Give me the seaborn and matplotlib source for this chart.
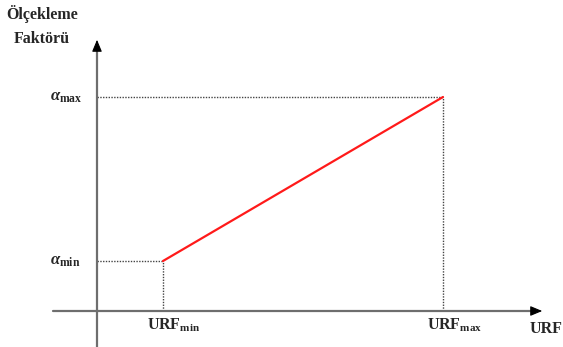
import matplotlib
matplotlib.use("Agg")
import matplotlib.pyplot as plt
import seaborn as sns
import pandas as pd

# ---- data ----
urf_vals = [1.0, 5.0]          # URF_min, URF_max
alpha_vals = [1.0, 3.0]        # alpha_min, alpha_max
x_tick_labels = [r"$\mathbf{URF}_{\mathbf{min}}$", r"$\mathbf{URF}_{\mathbf{max}}$"]
y_tick_labels = [r"$\alpha_{\mathbf{min}}$", r"$\alpha_{\mathbf{max}}$"]
x_axis_label = "URF"
y_axis_label = "Ölçekleme\nFaktörü"

sns.set_theme(style="white")
plt.rcParams["font.family"] = ["Liberation Serif", "DejaVu Serif"]
plt.rcParams["mathtext.fontset"] = "custom"
plt.rcParams["mathtext.rm"] = "Liberation Serif"
plt.rcParams["mathtext.bf"] = "Liberation Serif:bold"
plt.rcParams["mathtext.it"] = "Liberation Serif:italic:bold"

W, H = 563, 347
fig = plt.figure(figsize=(W / 100, H / 100), dpi=100)
ax = fig.add_axes([0, 0, 1, 1])

# pixel mapping (layout only)
x_px_min, x_px_max = 163, 443
y_px_min, y_px_max = 261, 97
sx = (x_px_max - x_px_min) / (urf_vals[1] - urf_vals[0])
sy = (y_px_min - y_px_max) / (alpha_vals[1] - alpha_vals[0])
x0_px = x_px_min - urf_vals[0] * sx
y0_px = y_px_min + alpha_vals[0] * sy
ax.set_xlim(-x0_px / sx, (W - x0_px) / sx)
ax.set_ylim((y0_px - H) / sy, y0_px / sy)


def px2x(p):
    return (p - x0_px) / sx


def px2y(p):
    return (y0_px - p) / sy


ax.set_axis_off()

origin_x = px2x(97)
origin_y = px2y(311)

# axes with arrows
axis_col = "#6e6e6e"
ax.plot([origin_x, origin_x], [px2y(347), px2y(45)], color=axis_col, lw=1.6, zorder=2)
ax.annotate("", xy=(origin_x, px2y(37)), xytext=(origin_x, px2y(48)),
            arrowprops=dict(arrowstyle="-|>,head_width=0.25,head_length=0.6",
                            color="black", lw=0.8))
ax.plot([px2x(53), px2x(535)], [origin_y, origin_y], color=axis_col, lw=1.6, zorder=2)
ax.annotate("", xy=(px2x(545), origin_y), xytext=(px2x(533), origin_y),
            arrowprops=dict(arrowstyle="-|>,head_width=0.25,head_length=0.6",
                            color="black", lw=0.8))

# dotted guides
for xv, yv in zip(urf_vals, alpha_vals):
    ax.plot([origin_x, xv], [yv, yv], color="#444444", lw=1.0, ls=(0, (1, 1)), zorder=1)
    ax.plot([xv, xv], [origin_y, yv], color="#444444", lw=1.0, ls=(0, (1, 1)), zorder=1)

# red line
df = pd.DataFrame({"URF": urf_vals, "alpha": alpha_vals})
sns.lineplot(data=df, x="URF", y="alpha", color="#ff1a1a", lw=1.6, ax=ax, zorder=3)

# labels
for xv, lab in zip(urf_vals, x_tick_labels):
    ax.text(xv - 16 / sx, px2y(325), lab, fontsize=11.5, ha="left", va="center")
for yv, lab in zip(alpha_vals, y_tick_labels):
    ax.text(px2x(50), yv, lab, fontsize=12, ha="left", va="center")

ax.text(px2x(530), px2y(329), x_axis_label, fontsize=11.5, fontweight="bold",
        ha="left", va="center")
ax.text(px2x(42), px2y(26), y_axis_label, fontsize=11.5, fontweight="bold",
        ha="center", va="center", linespacing=1.6)

fig.savefig("out.png", dpi=100)
